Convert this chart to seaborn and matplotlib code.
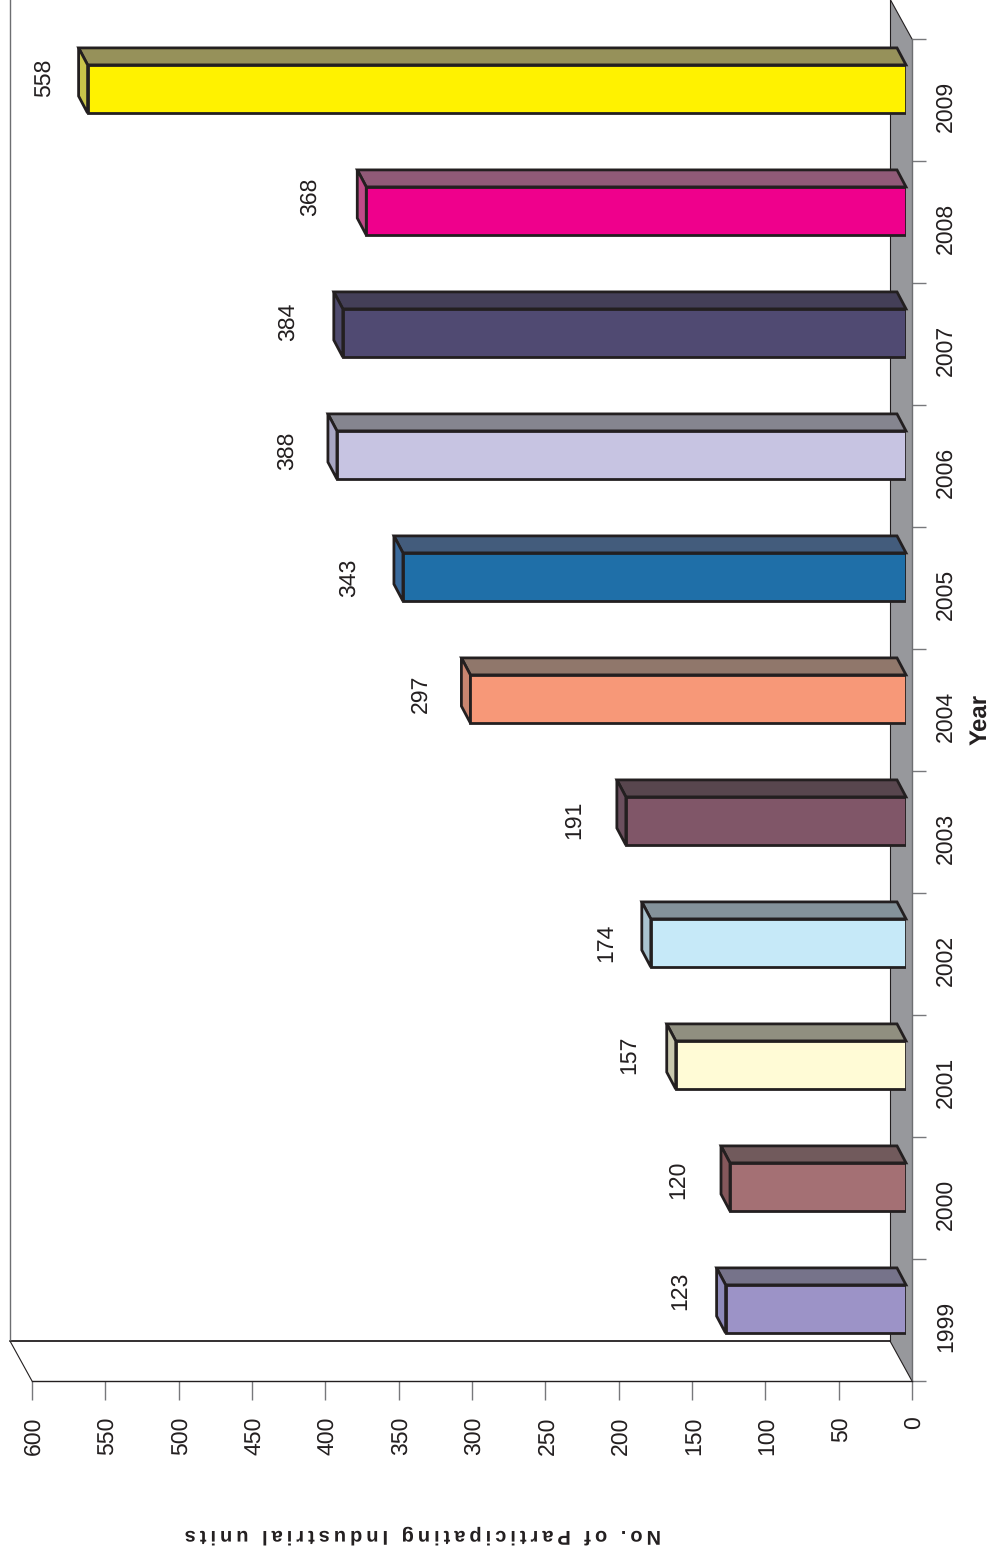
import matplotlib
matplotlib.use("Agg")
import matplotlib.pyplot as plt
import seaborn as sns
from matplotlib.patches import Polygon
from matplotlib.ticker import FixedLocator, FixedFormatter
from matplotlib.transforms import ScaledTranslation

years = ["1999", "2000", "2001", "2002", "2003", "2004", "2005", "2006", "2007", "2008", "2009"]
units = [123, 120, 157, 174, 191, 297, 343, 388, 384, 368, 558]
value_ticks = [0, 50, 100, 150, 200, 250, 300, 350, 400, 450, 500, 550, 600]
front_colors = ["#9C93C7", "#A47074", "#FFFBD6", "#C6E9F8", "#805668", "#F79878",
                "#1F6FA8", "#C7C4E2", "#504A72", "#EF008C", "#FFF200"]
top_colors = ["#76738A", "#715A5C", "#908F80", "#84929A", "#58464E", "#90776B",
              "#435C7C", "#85858F", "#443F58", "#905A78", "#96915A"]
side_colors = ["#8E8ABA", "#85575B", "#C9C8AE", "#A9C3CF", "#6B4F5E", "#C98570",
               "#3A6A9C", "#A8A6C4", "#4F4B6E", "#C04A88", "#C9C44A"]

# little nudges of the value labels, in pixels from the bar end
label_nudge = [(-46, 18), (-52, 7), (-46, 10), (-45, 0), (-52, 1), (-50, 5),
               (-54, -1), (-50, 4), (-55, 11), (-56, 14), (-44, 11)]

W, H = 994, 1554
INK = "#231F20"

sns.set_theme(style="white")
plt.rcParams["font.family"] = ["Liberation Sans", "DejaVu Sans"]
plt.rcParams["text.hinting"] = "no_hinting"
plt.rcParams["text.hinting_factor"] = 1

fig = plt.figure(figsize=(W / 100, H / 100), dpi=100)


def px_axes(left, top, right, bottom):
    return fig.add_axes([left / W, 1 - bottom / H, (right - left) / W, (bottom - top) / H])


# frame holds the ticks and the "room", bars sit on a plane moved a bit forward
frame = px_axes(32, 39, 912, 1381)
ax = px_axes(26, 28, 906, 1370)
ax.patch.set_visible(False)

sns.barplot(x=units, y=years, hue=years, palette=front_colors, order=years, hue_order=years,
            width=0.395, saturation=1, edgecolor=INK, linewidth=2.0, legend=False, ax=ax, zorder=5)
ax.set_xlim(600, 0)
ax.set_ylim(-0.5, 10.5)
ax.axis("off")

# depth in data units
dv = 9 / (880 / 600)
dc = 17 / (1342 / 11)

for bar, val, top_c, side_c, nudge in zip(ax.patches, units, top_colors, side_colors, label_nudge):
    v = bar.get_width()
    y0, y1 = sorted((bar.get_y(), bar.get_y() + bar.get_height()))
    ax.add_patch(Polygon([(0, y1), (v, y1), (v + dv, y1 + dc), (dv, y1 + dc)], closed=True,
                         facecolor=top_c, edgecolor=INK, linewidth=2.0, zorder=4, clip_on=False))
    ax.add_patch(Polygon([(v, y0), (v + dv, y0 + dc), (v + dv, y1 + dc), (v, y1)], closed=True,
                         facecolor=side_c, edgecolor=INK, linewidth=2.0, zorder=4, clip_on=False))
    ax.annotate(str(val), xy=(v, (y0 + y1) / 2), xytext=nudge, textcoords="offset pixels",
                rotation=90, ha="center", va="center", fontsize=16.3, color=INK)

frame.set_xlim(600, 0)
frame.set_ylim(-0.5, 10.5)
sns.despine(ax=frame, top=True, left=True, right=False, bottom=False)
frame.spines["bottom"].set_color(INK)
frame.spines["bottom"].set_linewidth(1.0)
frame.spines["right"].set_color("#6D6E71")
frame.spines["right"].set_linewidth(1.0)

frame.set_xticks(value_ticks)
frame.set_xticklabels([str(t) for t in value_ticks], rotation=90, va="top", ha="center",
                      fontsize=16.3, color=INK)
frame.tick_params(axis="x", bottom=True, length=13.7, width=1.0, color="#77787B", pad=12)
value_shift = ScaledTranslation(2 / 100, 0, fig.dpi_scale_trans)
for lab in frame.get_xticklabels():
    lab.set_transform(lab.get_transform() + value_shift)

frame.yaxis.tick_right()
frame.yaxis.set_major_locator(FixedLocator([i - 0.5 for i in range(len(years) + 1)]))
frame.yaxis.set_major_formatter(FixedFormatter([""] * (len(years) + 1)))
frame.yaxis.set_minor_locator(FixedLocator(list(range(len(years)))))
frame.yaxis.set_minor_formatter(FixedFormatter(years))
frame.tick_params(axis="y", which="major", right=True, length=10, width=1.0, color="#77787B")
frame.tick_params(axis="y", which="minor", right=False, length=0, pad=16.5, labelsize=16.3,
                  labelcolor=INK)
year_shift = ScaledTranslation(0, -6 / 100, fig.dpi_scale_trans)
for lab in frame.yaxis.get_minorticklabels():
    lab.set_rotation(90)
    lab.set_va("center")
    lab.set_ha("left")
    lab.set_transform(lab.get_transform() + year_shift)

# floor strip and the back wall of the room
wall_v = 22 / (880 / 600)
wall_c = 40 / (1342 / 11)
frame.add_patch(Polygon([(0, -0.5), (wall_v, -0.5 + wall_c), (wall_v, 10.5 + wall_c), (0, 10.5)],
                        closed=True, facecolor="#97989C", edgecolor="none", clip_on=False, zorder=1))
frame.plot([wall_v, wall_v], [-0.5 + wall_c, 10.5 + wall_c], color=INK, lw=0.8, clip_on=False, zorder=2)
frame.plot([0, wall_v], [-0.5, -0.5 + wall_c], color=INK, lw=0.8, clip_on=False, zorder=2)
frame.plot([0, wall_v], [10.5, 10.5 + wall_c], color=INK, lw=0.8, clip_on=False, zorder=2)
frame.plot([wall_v, 600 + wall_v], [-0.5 + wall_c, -0.5 + wall_c], color=INK, lw=1.3, clip_on=False, zorder=2)
frame.plot([600 + wall_v, 600 + wall_v], [-0.5 + wall_c, 10.5 + wall_c], color="#6D6E71", lw=1.0, clip_on=False, zorder=2)
frame.plot([600, 600 + wall_v], [-0.5, -0.5 + wall_c], color=INK, lw=0.8, clip_on=False, zorder=2)

frame.set_xlabel("\u2009".join("No. of Participating Industrial units"), rotation=180, fontsize=14.7,
                 fontweight="bold", color=INK)
frame.xaxis.set_label_coords((423 - 32) / 880, (1381 - 1534) / 1342)
frame.xaxis.label.set_va("center")
frame.yaxis.set_label_position("right")
frame.set_ylabel("Year", rotation=90, fontsize=17.5, fontweight="bold", color=INK, va="center")
frame.yaxis.set_label_coords((980 - 32) / 880, (1381 - 719) / 1342)

fig.savefig("out.png", dpi=100)
plt.close(fig)
